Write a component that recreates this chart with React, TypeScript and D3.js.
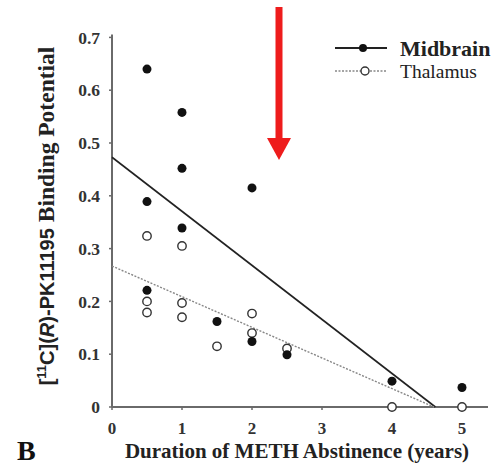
import React from "react";
import * as d3 from "d3";

const W = 491;
const H = 470;

const xTicks = [0, 1, 2, 3, 4, 5];
const yTicks = [0, 0.1, 0.2, 0.3, 0.4, 0.5, 0.6, 0.7];
const yTickLabels = ["0", "0.1", "0.2", "0.3", "0.4", "0.5", "0.6", "0.7"];

const midbrainX = [0.5, 0.5, 0.5, 1, 1, 1, 1.5, 2, 2, 2.5, 4, 5];
const midbrainY = [0.64, 0.389, 0.221, 0.558, 0.452, 0.339, 0.162, 0.415, 0.124, 0.099, 0.049, 0.037];

const thalamusX = [0.5, 0.5, 0.5, 1, 1, 1, 1.5, 2, 2, 2.5, 4, 5];
const thalamusY = [0.324, 0.2, 0.179, 0.305, 0.197, 0.17, 0.115, 0.177, 0.14, 0.111, 0, 0];

const midbrainFitX = [0, 4.62];
const midbrainFitY = [0.473, 0];
const thalamusFitX = [0, 4.6];
const thalamusFitY = [0.267, 0];

const seriesNames = ["Midbrain", "Thalamus"];

export default function App() {
  const x = d3.scaleLinear().domain([0, 5]).range([112, 462]);
  const y = d3.scaleLinear().domain([0, 0.7]).range([407, 37.4]);
  const line = d3
    .line<[number, number]>()
    .x((d) => x(d[0]))
    .y((d) => y(d[1]));
  const mFit = midbrainFitX.map((v, i) => [v, midbrainFitY[i]] as [number, number]);
  const tFit = thalamusFitX.map((v, i) => [v, thalamusFitY[i]] as [number, number]);
  const axisColor = "#6a6a6a";
  const font = "'Liberation Serif', 'Times New Roman', serif";
  const sans = "'Liberation Sans', Arial, sans-serif";

  return (
    <svg
      width={W}
      height={H}
      style={{ position: "absolute", left: 0, top: 0, background: "#fff" }}
      fontFamily={font}
    >
      <rect width={W} height={H} fill="#fff" />
      {/* axes */}
      <line x1={x(0)} x2={x(0)} y1={y(0.7) - 3} y2={y(0)} stroke={axisColor} strokeWidth={2} />
      <line x1={x(0)} x2={488} y1={y(0)} y2={y(0)} stroke={axisColor} strokeWidth={2} />
      {yTicks.map((t, i) => (
        <g key={"yt" + i}>
          <line x1={x(0) - 3} x2={x(0)} y1={y(t)} y2={y(t)} stroke={axisColor} strokeWidth={1.5} />
          <text
            x={100}
            y={y(t)}
            dy="0.35em"
            textAnchor="end"
            fontSize={17.5}
            fontWeight="bold"
            fill="#333"
          >
            {yTickLabels[i]}
          </text>
        </g>
      ))}
      {xTicks.map((t, i) => (
        <g key={"xt" + i}>
          <line x1={x(t)} x2={x(t)} y1={y(0)} y2={y(0) + 3} stroke={axisColor} strokeWidth={1.5} />
          <text x={x(t)} y={434} textAnchor="middle" fontSize={17} fontWeight="bold" fill="#333">
            {String(t)}
          </text>
        </g>
      ))}
      {/* fit lines */}
      <path d={line(mFit) || ""} stroke="#222" strokeWidth={1.6} fill="none" />
      <path d={line(tFit) || ""} stroke="#888" strokeWidth={1.4} strokeDasharray="2,1.5" fill="none" />
      {/* points */}
      {thalamusX.map((v, i) => (
        <circle
          key={"t" + i}
          cx={x(v)}
          cy={y(thalamusY[i])}
          r={4.2}
          fill="#fff"
          stroke="#333"
          strokeWidth={1.4}
        />
      ))}
      {midbrainX.map((v, i) => (
        <circle key={"m" + i} cx={x(v)} cy={y(midbrainY[i])} r={4.5} fill="#111" />
      ))}
      {/* legend */}
      <line x1={335} x2={387} y1={48} y2={48} stroke="#222" strokeWidth={1.8} />
      <circle cx={363} cy={48} r={4} fill="#111" />
      <text x={400} y={56} fontSize={22} fontWeight="bold" fill="#222">
        {seriesNames[0]}
      </text>
      <line x1={335} x2={387} y1={71} y2={71} stroke="#888" strokeWidth={1.3} strokeDasharray="2,1.5" />
      <circle cx={365} cy={71} r={4} fill="#fff" stroke="#333" strokeWidth={1.4} />
      <text x={400} y={78} fontSize={19.5} fill="#222">
        {seriesNames[1]}
      </text>
      {/* axis titles */}
      <text x={297} y={458} textAnchor="middle" fontSize={21} fontWeight="bold" fill="#222">
        Duration of METH Abstinence (years)
      </text>
      <text
        transform={`translate(54, 216) rotate(-90)`}
        textAnchor="middle"
        fontSize={23.5}
        fontWeight="bold"
        fill="#222"
      >
        <tspan fontFamily={sans} fontSize={20}>[</tspan>
        <tspan fontFamily={sans} dy={-8} fontSize={13}>11</tspan>
        <tspan fontFamily={sans} dy={8} fontSize={20}>C](</tspan>
        <tspan fontFamily={sans} fontSize={20} fontStyle="italic">R</tspan>
        <tspan fontFamily={sans} fontSize={20}>)-PK11195</tspan> Binding Potential
      </text>
      <text x={17} y={460} fontSize={28} fontWeight="bold" fill="#111">
        B
      </text>
      {/* red arrow */}
      <line x1={279} x2={279} y1={7} y2={142} stroke="#ee1c1c" strokeWidth={7} />
      <polygon points="267,138 291,138 279,160" fill="#ee1c1c" />
    </svg>
  );
}
